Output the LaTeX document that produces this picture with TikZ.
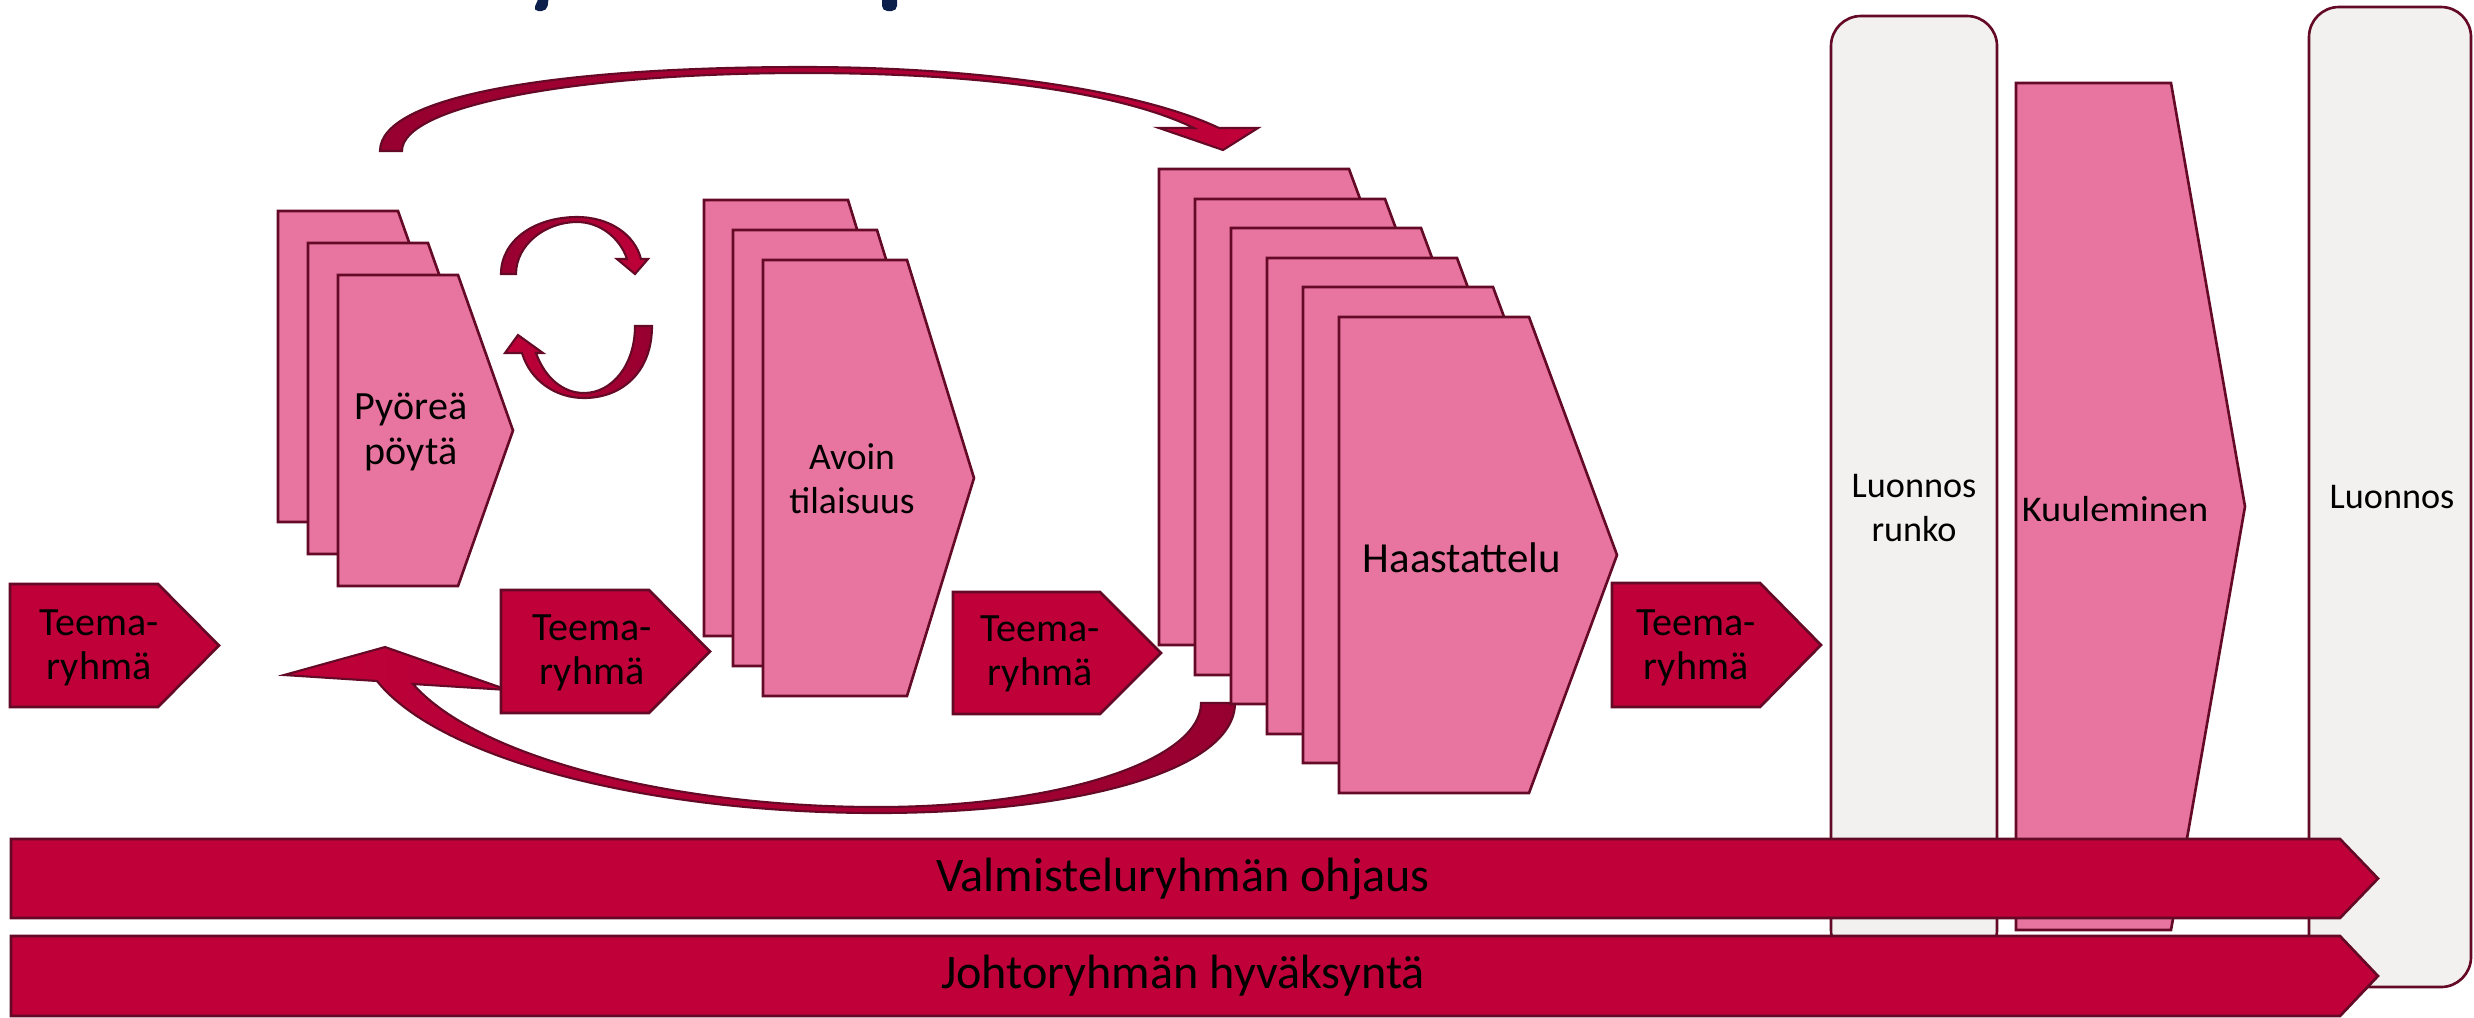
\documentclass[tikz,border=0pt]{standalone}
\usepackage{fontspec}
\usepackage{graphicx}
\usepackage{tikz}
\setmainfont{Carlito}
\definecolor{crimson}{HTML}{C00039}
\definecolor{rose}{HTML}{E8759F}
\definecolor{edge}{HTML}{640A27}
\definecolor{wine}{HTML}{960030}
\definecolor{paper}{HTML}{F2F1EF}
\definecolor{navy}{HTML}{0C1E4A}
\tikzset{pinkbox/.style = {draw = edge, fill = rose, line width = 0.75pt}}
\tikzset{redbox/.style = {draw = edge, fill = crimson, line width = 0.75pt}}
\tikzset{greybox/.style = {draw = edge, fill = paper, line width = 0.75pt, rounded corners = 3mm}}
\tikzset{ribbon/.style = {draw = edge, line width = 0.6pt}}
\tikzset{lbl/.style = {align = center, inner sep = 0, font = \fontsize{11.4}{12.6}\selectfont}}
\tikzset{widelbl/.style = {align = center, inner sep = 0, font = \fontsize{10.3}{12.4}\selectfont}}
\tikzset{biglbl/.style = {inner sep = 0, font = \fontsize{13.7}{16}\selectfont}}

\begin{document}
\begin{tikzpicture}[x = 0.1mm, y = -0.1mm]
      \useasboundingbox (0, 0) rectangle (2474, 1017);

      % title, cut off at the top
      \fill [navy, rounded corners = 1.5] (540, -5) -- (549, -5) -- (547, 11) -- (533, 11) -- cycle;
      \fill [navy, rounded corners = 1.5] (882, -5) -- (897, -5) -- (897, 11) -- (882, 11) -- cycle;

      \draw [greybox] (1831, 16) rectangle (1997, 960);
      \node [widelbl] (runko) at (1914, 508) {Luonnos\\runko};

      \draw [pinkbox] (2016, 83) -- (2171, 83) -- (2245, 506.5) -- (2171, 930) -- (2016, 930) -- cycle;
      \node [widelbl] (kuuleminen) at (2115, 509) {\scalebox{1.06}[1]{Kuuleminen}};

      \draw [greybox] (2309, 7) rectangle (2471, 987);
      \node [widelbl] (luonnos) at (2392, 497) {Luonnos};

      % curved arrows
      \shadedraw [ribbon, left color = wine, right color = crimson] (380, 151) .. controls (380, 95) and (560, 67) .. (804, 67)
        .. controls (1000, 67) and (1150, 95) .. (1219, 128) -- (1258, 128) -- (1223, 150) -- (1159, 128) -- (1194, 128)
        .. controls (1120, 92) and (980, 73) .. (804, 73) .. controls (580, 73) and (402, 105) .. (402, 151) -- cycle;
      \shadedraw [ribbon, left color = crimson, right color = wine] (1235, 703) .. controls (1235, 770) and (1080, 813) .. (877, 813)
        .. controls (650, 813) and (440, 760) .. (377, 681) -- (284, 675) -- (385, 647) -- (508, 690) -- (413, 684)
        .. controls (480, 760) and (680, 807) .. (877, 807) .. controls (1060, 807) and (1201, 760) .. (1201, 703) -- cycle;
      \shadedraw [ribbon, left color = wine, right color = crimson] (501, 274) .. controls (501, 240) and (535, 217) .. (577, 217)
        .. controls (610, 217) and (635, 235) .. (641, 259) -- (648, 259) -- (635, 274) -- (617, 259) -- (627, 259)
        .. controls (620, 238) and (600, 222) .. (577, 222) .. controls (545, 222) and (516, 245) .. (516, 274) -- cycle;
      \shadedraw [ribbon, left color = crimson, right color = wine] (652, 326) .. controls (652, 372) and (622, 398) .. (584, 398)
        .. controls (555, 398) and (530, 380) .. (522, 353) -- (505, 353) -- (518, 335) -- (543, 353) -- (536, 353)
        .. controls (545, 378) and (563, 393) .. (584, 393) .. controls (612, 393) and (635, 365) .. (635, 326) -- cycle;

      \draw [pinkbox] (278, 211) -- (398, 211) -- (453, 366.5) -- (398, 522) -- (278, 522) -- cycle;
      \draw [pinkbox] (308, 243) -- (428, 243) -- (483, 398.5) -- (428, 554) -- (308, 554) -- cycle;
      \draw [pinkbox] (338, 275) -- (458, 275) -- (513, 430.5) -- (458, 586) -- (338, 586) -- cycle;
      \node [lbl] (pyorea) at (411, 432) {Pyöreä\\pöytä};

      \draw [pinkbox] (704, 200) -- (848, 200) -- (915, 418) -- (848, 636) -- (704, 636) -- cycle;
      \draw [pinkbox] (733, 230) -- (877, 230) -- (944, 448) -- (877, 666) -- (733, 666) -- cycle;
      \draw [pinkbox] (763, 260) -- (907, 260) -- (974, 478) -- (907, 696) -- (763, 696) -- cycle;
      \node [lbl, font = \fontsize{10.7}{12.6}\selectfont] (avoin) at (852, 479) {Avoin\\tilaisuus};

      \draw [pinkbox] (1159, 169) -- (1349, 169) -- (1437, 407) -- (1349, 645) -- (1159, 645) -- cycle;
      \draw [pinkbox] (1195, 199) -- (1385, 199) -- (1473, 437) -- (1385, 675) -- (1195, 675) -- cycle;
      \draw [pinkbox] (1231, 228) -- (1421, 228) -- (1509, 466) -- (1421, 704) -- (1231, 704) -- cycle;
      \draw [pinkbox] (1267, 258) -- (1457, 258) -- (1545, 496) -- (1457, 734) -- (1267, 734) -- cycle;
      \draw [pinkbox] (1303, 287) -- (1493, 287) -- (1581, 525) -- (1493, 763) -- (1303, 763) -- cycle;
      \draw [pinkbox] (1339, 317) -- (1529, 317) -- (1617, 555) -- (1529, 793) -- (1339, 793) -- cycle;
      \node [lbl, font = \fontsize{12.2}{14}\selectfont] (haastattelu) at (1462, 558) {Haastattelu};

      \draw [redbox] (10, 584) -- (158, 584) -- (219, 645.5) -- (158, 707) -- (10, 707) -- cycle;
      \node [lbl] (teema1) at (99, 648) {Teema-\\ryhmä};
      \draw [redbox] (501, 590) -- (649, 590) -- (710, 651.5) -- (649, 713) -- (501, 713) -- cycle;
      \node [lbl] (teema2) at (592, 653) {Teema-\\ryhmä};
      \draw [redbox] (953, 592) -- (1100, 592) -- (1161, 653) -- (1100, 714) -- (953, 714) -- cycle;
      \node [lbl] (teema3) at (1040, 654) {Teema-\\ryhmä};
      \draw [redbox] (1612, 583) -- (1760, 583) -- (1821, 645) -- (1760, 707) -- (1612, 707) -- cycle;
      \node [lbl] (teema4) at (1696, 648) {Teema-\\ryhmä};

      \draw [redbox] (11, 839) -- (2340, 839) -- (2378, 878.5) -- (2340, 918) -- (11, 918) -- cycle;
      \node [biglbl] (ohjaus) at (1183, 879) {Valmisteluryhmän ohjaus};
      \draw [redbox] (11, 936) -- (2340, 936) -- (2378, 976) -- (2340, 1016) -- (11, 1016) -- cycle;
      \node [biglbl] (hyvaksynta) at (1183, 976) {Johtoryhmän hyväksyntä};
    \end{tikzpicture}
\end{document}
